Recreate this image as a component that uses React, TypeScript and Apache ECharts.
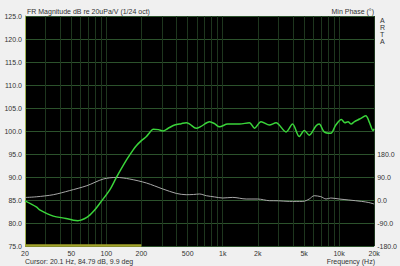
import React, { useEffect, useRef } from "react";
import * as echarts from "echarts";

// Magnitude response (Hz, dB)
const magFreq = [20, 25, 27, 35, 45, 52, 57, 68, 78, 88, 107, 122, 149, 170, 181, 200, 221, 236, 252, 280, 306, 340, 386, 440, 486, 520, 592, 650, 770, 850, 938, 1102, 1392, 1696, 1872, 2064, 2136, 2518, 2870, 3500, 3980, 4540, 5020, 5540, 6320, 6740, 7440, 8480, 9360, 10460, 11200, 11920, 12700, 13460, 15000, 16960, 18120, 19600, 20000];
const magDb = [84.8, 83.5, 82.8, 81.5, 81.0, 80.6, 80.5, 81.2, 82.6, 84.3, 87.2, 89.9, 93.7, 95.9, 96.8, 97.9, 98.8, 99.7, 100.4, 100.3, 100.0, 100.6, 101.3, 101.6, 101.8, 101.5, 100.6, 101.0, 102.0, 101.6, 100.9, 101.5, 101.5, 101.8, 100.6, 101.8, 102.0, 101.3, 101.8, 99.8, 101.5, 98.8, 100.1, 99.1, 101.1, 101.5, 99.8, 99.5, 101.3, 102.5, 101.8, 102.0, 101.5, 102.0, 102.6, 103.3, 102.0, 100.1, 100.5];

// Minimum phase (Hz, degrees)
const phFreq = [20, 25, 35, 48, 68, 94, 122, 159, 221, 306, 399, 486, 560, 632, 723, 850, 1001, 1220, 1590, 2000, 2520, 3000, 3740, 4880, 5540, 6100, 6970, 7720, 8480, 10020, 12130, 15640, 18000, 20000];
const phDeg = [9.9, 12.5, 20.7, 36.4, 56, 82, 88.4, 82, 66.5, 43, 25.8, 20.7, 21.5, 23.5, 16.8, 12, 7.8, 10.2, 3.9, 3.9, -2.7, -3, -5.5, -5.5, 3.9, 16.8, 13, 3.9, 7.8, 3.9, 0, -5.5, -10, -15.6];

const freqLabels = [20, 50, 100, 200, 500, 1000, 2000, 5000, 10000, 20000];
const gridFreqs = [20, 30, 40, 50, 60, 70, 80, 90, 100, 200, 300, 400, 500, 600, 700, 800, 900, 1000, 2000, 3000, 4000, 5000, 6000, 7000, 8000, 9000, 10000, 20000];

const dbMin = 75;
const dbMax = 125;
const phMin = -180;
const phMax = 720;
const phLabelMax = 180;
const rangeStart = 20;
const rangeEnd = 200;

const title = "FR Magnitude dB re 20uPa/V (1/24 oct)";
const phaseTitle = "Min Phase (°)";
const cursorText = "Cursor: 20.1 Hz, 84.79 dB, 9.9 deg";
const xTitle = "Frequency (Hz)";

const FONT = "Liberation Sans, Arial, sans-serif";
const TXT = "#333";

export default function App() {
  const ref = useRef<HTMLDivElement>(null);
  useEffect(() => {
    if (!ref.current) return;
    const chart = echarts.init(ref.current, undefined, { renderer: "svg" });
    const lg = (f: number) => Math.log10(f);
    const fmtF = (v: number) => {
      const f = Math.round(Math.pow(10, v));
      return f >= 1000 ? f / 1000 + "k" : String(f);
    };
    chart.setOption({
      animation: false,
      backgroundColor: "#f0f0f0",
      textStyle: { fontFamily: FONT },
      grid: {
        left: 25,
        right: 25,
        top: 16,
        bottom: 20,
        show: true,
        backgroundColor: "#000",
        borderWidth: 0,
      },
      xAxis: {
        type: "value",
        min: lg(20),
        max: lg(20000),
        axisLine: { show: false },
        axisTick: { show: false, customValues: gridFreqs.map(lg) },
        splitLine: { show: true, lineStyle: { color: "#1e361e", width: 1 } },
        axisLabel: {
          customValues: freqLabels.map(lg),
          formatter: (v: number) => fmtF(v),
          fontSize: 7,
          color: TXT,
          margin: 4,
          fontFamily: FONT,
        },
      },
      yAxis: [
        {
          type: "value",
          min: dbMin,
          max: dbMax,
          interval: 5,
          axisLine: { show: true, lineStyle: { color: "#9fb050", width: 1 } },
          axisTick: { show: false },
          splitLine: { show: true, lineStyle: { color: "#2c522c", width: 1 } },
          axisLabel: {
            formatter: (v: number) => v.toFixed(1),
            fontSize: 7,
            color: TXT,
            margin: 3,
            fontFamily: FONT,
          },
        },
        {
          type: "value",
          position: "right",
          min: phMin,
          max: phMax,
          interval: 90,
          axisLine: { show: false },
          axisTick: { show: false },
          splitLine: { show: false },
          axisLabel: {
            formatter: (v: number) => (v <= phLabelMax ? v.toFixed(1) : ""),
            fontSize: 7,
            color: TXT,
            margin: 3,
            fontFamily: FONT,
          },
        },
      ],
      series: [
        {
          type: "line",
          yAxisIndex: 1,
          data: phFreq.map((f, i) => [lg(f), phDeg[i]]),
          showSymbol: false,
          smooth: 0.3,
          lineStyle: { color: "#a8a8a8", width: 1 },
        },
        {
          type: "line",
          yAxisIndex: 0,
          data: magFreq.map((f, i) => [lg(f), magDb[i]]),
          showSymbol: false,
          smooth: 0.3,
          lineStyle: { color: "#3ad43a", width: 1.5 },
          markLine: {
            silent: true,
            symbol: "none",
            z: 10,
            label: { show: false },
            lineStyle: { color: "#a3a32c", width: 2.5, type: "solid", opacity: 1 },
            data: [[{ coord: [lg(rangeStart), dbMin + 0.15] }, { coord: [lg(rangeEnd), dbMin + 0.15] }]],
          },
        },
      ],
      graphic: [
        { type: "text", left: 27, top: 8, style: { text: title, fontSize: 7, fill: TXT, fontFamily: FONT } },
        { type: "text", right: 26, top: 8, style: { text: phaseTitle, fontSize: 7, fill: TXT, fontFamily: FONT } },
        { type: "text", left: 380, top: 17, style: { text: "A\nR\nT\nA", fontSize: 7, lineHeight: 7, fill: TXT, fontFamily: FONT } },
        { type: "text", left: 25, top: 258, style: { text: cursorText, fontSize: 7, fill: TXT, fontFamily: FONT } },
        { type: "text", right: 25, top: 258, style: { text: xTitle, fontSize: 7, fill: TXT, fontFamily: FONT } },
      ],
    });
    return () => chart.dispose();
  }, []);
  return <div ref={ref} style={{ position: "fixed", left: 0, top: 0, width: 400, height: 266 }} />;
}
